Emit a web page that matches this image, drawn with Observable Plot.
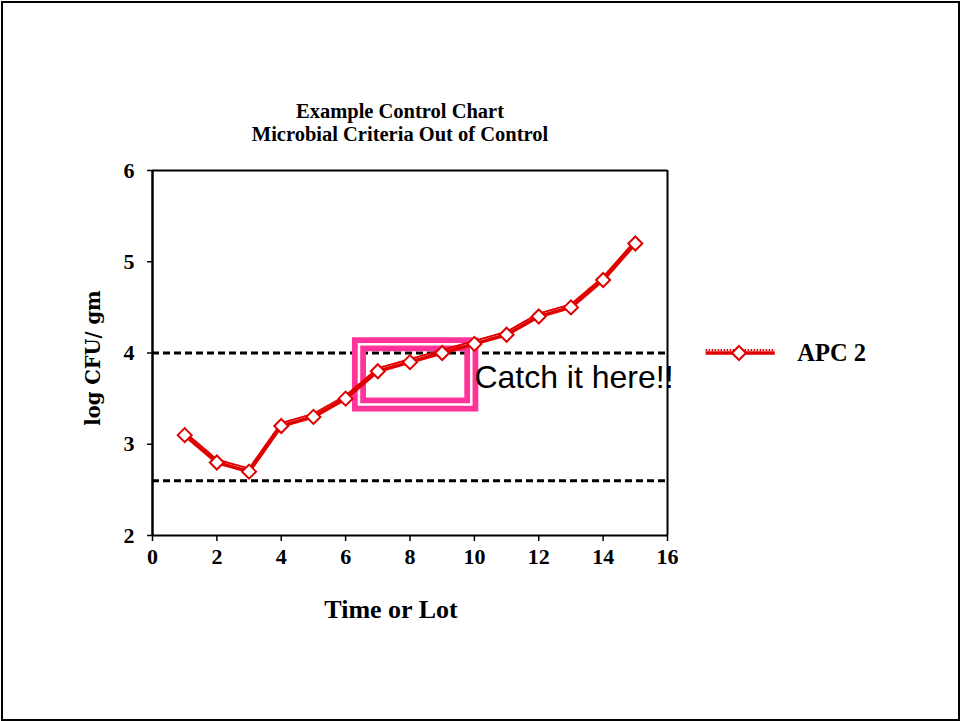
<!DOCTYPE html>
<html>
<head>
<meta charset="utf-8">
<script src="https://cdn.jsdelivr.net/npm/d3@7"></script>
<script src="https://cdn.jsdelivr.net/npm/@observablehq/plot@0.6"></script>
<style>
  html, body { margin: 0; padding: 0; background: #fff; }
  #wrap { position: relative; width: 960px; height: 721px; overflow: hidden; }
  #border { position: absolute; left: 1px; top: 1px; width: 955px; height: 716px; border: 2px solid #000; pointer-events: none; }
</style>
</head>
<body>
<div id="wrap"><div id="chart"></div><div id="border"></div></div>
<script>
// ---- data ----
const lots = [1, 2, 3, 4, 5, 6, 7, 8, 9, 10, 11, 12, 13, 14, 15];
const apc2 = [3.1, 2.8, 2.7, 3.2, 3.3, 3.5, 3.8, 3.9, 4.0, 4.1, 4.2, 4.4, 4.5, 4.8, 5.2];
const controlLimits = [4.0, 2.6];
const xTicks = [0, 2, 4, 6, 8, 10, 12, 14, 16];
const yTicks = [2, 3, 4, 5, 6];
const seriesName = "APC 2";
const titleLines = ["Example Control Chart", "Microbial Criteria Out of Control"];
const xLabel = "Time or Lot";
const yLabel = "log CFU/ gm";
const annotation = "Catch it here!!";
// highlight box (data units)
const boxX = [6.43, 9.92];
const boxY = [3.43, 4.09];
// legend position (data units, outside the frame)
const legendX = [17.2, 19.35];
const legendMarkX = [18.22];
const legendY = [4.0];

const data = lots.map((x, i) => ({x, y: apc2[i]}));
const RED = "#e00000";
const PINK = "#ff3399";
const serif = "'Liberation Serif', 'Times New Roman', serif";

const chart = Plot.plot({
  width: 960,
  height: 721,
  marginLeft: 152,
  marginRight: 293,
  marginTop: 170,
  marginBottom: 186,
  style: {fontFamily: serif, fontWeight: "bold", background: "transparent", overflow: "visible"},
  x: {domain: [0, 16]},
  y: {domain: [2, 6]},
  marks: [
    // frame lines
    Plot.ruleY([6], {stroke: "#000", strokeWidth: 2}),
    Plot.ruleY([2], {stroke: "#000", strokeWidth: 2}),
    Plot.ruleX([16], {stroke: "#000", strokeWidth: 2}),
    Plot.ruleX([0], {stroke: "#000", strokeWidth: 2.5}),
    // axes
    Plot.axisX({ticks: xTicks, tickFormat: "d", tickSize: 6, tickPadding: 7, fontSize: 22, fontWeight: "bold", label: null, strokeWidth: 1.5}),
    Plot.axisY({ticks: yTicks, tickFormat: "d", tickSize: 5, tickPadding: 13, fontSize: 22, fontWeight: "bold", label: null, strokeWidth: 1.5}),
    // control limits
    Plot.ruleY(controlLimits, {stroke: "#000", strokeWidth: 3, strokeDasharray: "7,4"}),
    // highlight box
    Plot.rect([0], {x1: boxX[0], x2: boxX[1], y1: boxY[0], y2: boxY[1], fill: "none", stroke: PINK, strokeWidth: 14}),
    Plot.rect([0], {x1: boxX[0], x2: boxX[1], y1: boxY[0], y2: boxY[1], fill: "none", stroke: "#fff", strokeWidth: 2.5}),
    // series
    Plot.line(data, {x: "x", y: "y", stroke: RED, strokeWidth: 3.5}),
    Plot.line(data, {x: "x", y: "y", stroke: RED, strokeWidth: 2, strokeDasharray: "1.5,1.5", dy: -3}),
    Plot.dot(data, {x: "x", y: "y", symbol: "diamond2", r: 6.3, fill: "#fff", stroke: RED, strokeWidth: 2}),
    // annotation
    Plot.text([annotation], {x: 10.0, y: 3.73, text: d => d, textAnchor: "start", lineAnchor: "middle",
      fontFamily: "'Liberation Sans', Arial, sans-serif", fontWeight: "normal", fontSize: 32, fill: "#000"}),
    // legend
    Plot.ruleY(legendY, {x1: legendX[0], x2: legendX[1], stroke: RED, strokeWidth: 3.5, clip: false}),
    Plot.ruleY(legendY, {x1: legendX[0], x2: legendX[1], stroke: RED, strokeWidth: 2, strokeDasharray: "1.5,1.5", dy: -3, clip: false}),
    Plot.dot(legendMarkX, {x: d => d, y: legendY[0], symbol: "diamond2", r: 6.3, fill: "#fff", stroke: RED, strokeWidth: 2}),
    Plot.text([seriesName], {x: legendX[1], y: legendY[0], dx: 22, text: d => d, textAnchor: "start", lineAnchor: "middle", fontSize: 24.5, fontWeight: "bold", fill: "#000"}),
    // title (two lines in one text element)
    Plot.text([titleLines.join("\n")], {frameAnchor: "top", dx: -10, dy: -48.5, text: d => d, textAnchor: "middle", fontSize: 20.5, lineHeight: 1.12, fontWeight: "bold", lineAnchor: "middle", fill: "#000"}),
    // axis labels
    Plot.text([xLabel], {frameAnchor: "bottom", dx: -19, dy: 74, text: d => d, textAnchor: "middle", fontSize: 26, fontWeight: "bold", lineAnchor: "middle", fill: "#000"}),
    Plot.text([yLabel], {frameAnchor: "left", dx: -59, dy: 5, rotate: -90, text: d => d, textAnchor: "middle", fontSize: 19.5, fontWeight: "bold", lineAnchor: "middle", fill: "#000",
      fontFamily: "'DejaVu Serif', serif"})
  ]
});
document.getElementById("chart").appendChild(chart);
</script>
</body>
</html>
